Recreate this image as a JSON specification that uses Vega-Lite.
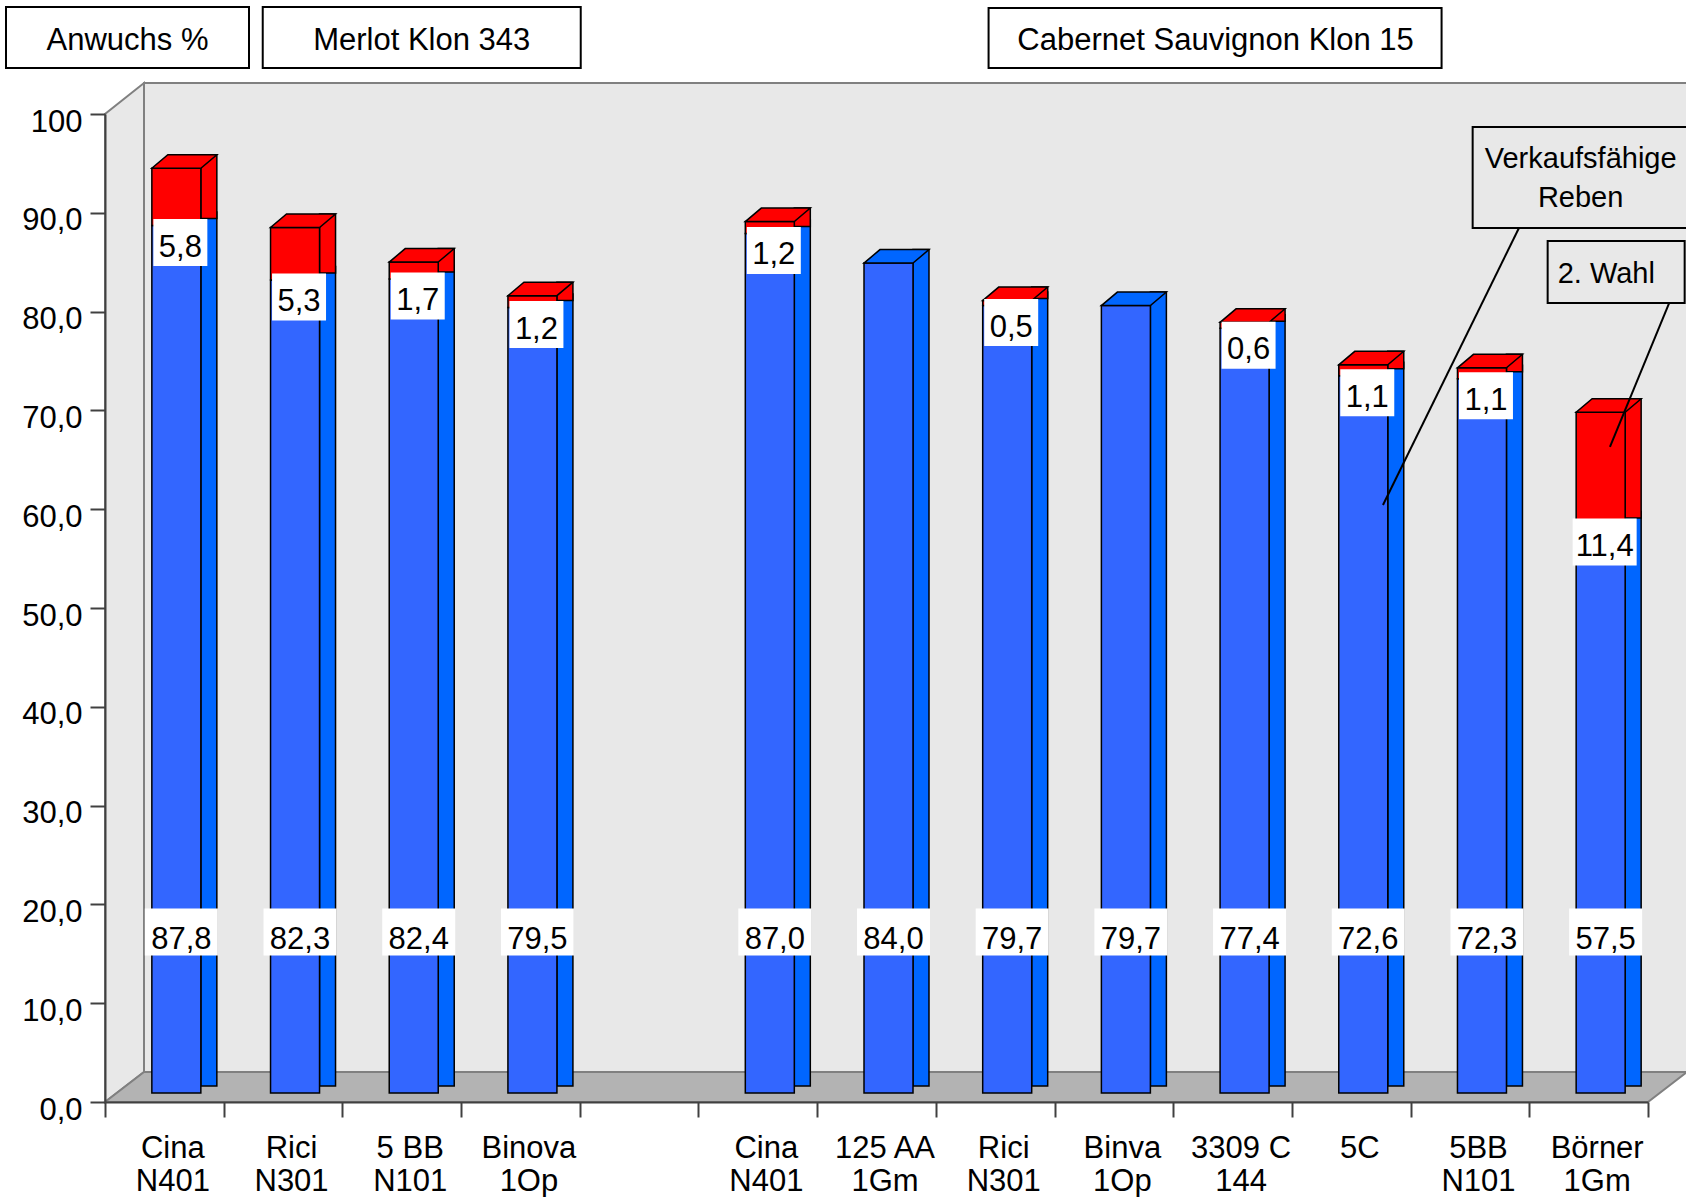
{
  "$schema": "https://vega.github.io/schema/vega-lite/v6.json",
  "width": 1543,
  "height": 988,
  "autosize": "none",
  "padding": {"left": 105, "top": 114, "right": 38, "bottom": 95},
  "background": "#ffffff",
  "config": {
    "view": {"stroke": null},
    "font": "Liberation Sans",
    "locale": {"number": {"decimal": ",", "thousands": ".", "grouping": [3], "currency": ["", " €"]}}
  },
  "datasets": {
    "anwuchs": [
      {"rootstock": "Merlot|Cina|N401", "part": "Verkaufsfähige Reben", "value": 87.8},
      {"rootstock": "Merlot|Cina|N401", "part": "2. Wahl", "value": 5.8},
      {"rootstock": "Merlot|Rici|N301", "part": "Verkaufsfähige Reben", "value": 82.3},
      {"rootstock": "Merlot|Rici|N301", "part": "2. Wahl", "value": 5.3},
      {"rootstock": "Merlot|5 BB|N101", "part": "Verkaufsfähige Reben", "value": 82.4},
      {"rootstock": "Merlot|5 BB|N101", "part": "2. Wahl", "value": 1.7},
      {"rootstock": "Merlot|Binova|1Op", "part": "Verkaufsfähige Reben", "value": 79.5},
      {"rootstock": "Merlot|Binova|1Op", "part": "2. Wahl", "value": 1.2},
      {"rootstock": "Cabernet|Cina|N401", "part": "Verkaufsfähige Reben", "value": 87.0},
      {"rootstock": "Cabernet|Cina|N401", "part": "2. Wahl", "value": 1.2},
      {"rootstock": "Cabernet|125 AA|1Gm", "part": "Verkaufsfähige Reben", "value": 84.0},
      {"rootstock": "Cabernet|Rici|N301", "part": "Verkaufsfähige Reben", "value": 79.7},
      {"rootstock": "Cabernet|Rici|N301", "part": "2. Wahl", "value": 0.5},
      {"rootstock": "Cabernet|Binva|1Op", "part": "Verkaufsfähige Reben", "value": 79.7},
      {"rootstock": "Cabernet|3309 C|144", "part": "Verkaufsfähige Reben", "value": 77.4},
      {"rootstock": "Cabernet|3309 C|144", "part": "2. Wahl", "value": 0.6},
      {"rootstock": "Cabernet|5C|", "part": "Verkaufsfähige Reben", "value": 72.6},
      {"rootstock": "Cabernet|5C|", "part": "2. Wahl", "value": 1.1},
      {"rootstock": "Cabernet|5BB|N101", "part": "Verkaufsfähige Reben", "value": 72.3},
      {"rootstock": "Cabernet|5BB|N101", "part": "2. Wahl", "value": 1.1},
      {"rootstock": "Cabernet|Börner|1Gm", "part": "Verkaufsfähige Reben", "value": 57.5},
      {"rootstock": "Cabernet|Börner|1Gm", "part": "2. Wahl", "value": 11.4}
    ]
  },
  "data": {"name": "anwuchs"},
  "layer": [
    {
      "data": {"values": [{}]},
      "mark": {"type": "point", "shape": "M39,-30L39,-1019L1585,-1019L1585,-30Z", "size": 4, "filled": true, "fill": "#e8e8e8", "stroke": "#808080", "strokeWidth": 2, "opacity": 1},
      "encoding": {"x": {"datum": "Merlot|Cina|N401", "bandPosition": 0}, "y": {"datum": 0}}
    },
    {
      "data": {"values": [{}]},
      "mark": {"type": "point", "shape": "M0,0L0,-988L39,-1019L39,-30Z", "size": 4, "filled": true, "fill": "#e8e8e8", "stroke": "#808080", "strokeWidth": 2, "opacity": 1},
      "encoding": {"x": {"datum": "Merlot|Cina|N401", "bandPosition": 0}, "y": {"datum": 0}}
    },
    {
      "data": {"values": [{}]},
      "mark": {"type": "point", "shape": "M0,0L39,-30L1582,-30L1543,0Z", "size": 4, "filled": true, "fill": "#b3b3b3", "stroke": "#808080", "strokeWidth": 2, "opacity": 1},
      "encoding": {"x": {"datum": "Merlot|Cina|N401", "bandPosition": 0}, "y": {"datum": 0}}
    },
    {
      "transform": [{"stack": "value", "groupby": ["rootstock"], "sort": [{"field": "part", "order": "descending"}], "as": ["v0", "v1"]}],
      "mark": {"type": "bar", "width": 16, "xOffset": 44.5, "yOffset": -22.5, "y2Offset": -16, "stroke": "#000000", "strokeWidth": 1.5},
      "encoding": {
        "x": {"field": "rootstock", "type": "nominal"},
        "y": {"field": "v1", "type": "quantitative"},
        "y2": {"field": "v0"},
        "fill": {"condition": {"test": "datum.part === '2. Wahl'", "value": "#ff0000"}, "value": "#0066ff"}
      }
    },
    {
      "transform": [{"stack": "value", "groupby": ["rootstock"], "sort": [{"field": "part", "order": "descending"}], "as": ["v0", "v1"]}],
      "mark": {"type": "bar", "width": 49, "xOffset": 12, "yOffset": -9, "y2Offset": -9, "stroke": "#000000", "strokeWidth": 1.5},
      "encoding": {
        "x": {
          "field": "rootstock",
          "type": "nominal",
          "scale": {
            "type": "band",
            "domain": ["Merlot|Cina|N401", "Merlot|Rici|N301", "Merlot|5 BB|N101", "Merlot|Binova|1Op", "gap||",
                       "Cabernet|Cina|N401", "Cabernet|125 AA|1Gm", "Cabernet|Rici|N301", "Cabernet|Binva|1Op",
                       "Cabernet|3309 C|144", "Cabernet|5C|", "Cabernet|5BB|N101", "Cabernet|Börner|1Gm"],
            "paddingInner": 0,
            "paddingOuter": 0
          },
          "axis": {
            "title": null,
            "orient": "bottom",
            "labelExpr": "[split(datum.value, '|')[1], split(datum.value, '|')[2]]",
            "labelFont": "Liberation Sans",
            "labelFontSize": 31,
            "labelColor": "#000000",
            "labelAngle": 0,
            "labelAlign": "center",
            "labelBaseline": "top",
            "labelPadding": 16,
            "labelLineHeight": 33,
            "labelOffset": 8,
            "labelOverlap": false,
            "labelBound": false,
            "labelFlush": false,
            "tickBand": "extent",
            "tickSize": 15,
            "tickColor": "#404040",
            "tickWidth": 2,
            "domainColor": "#404040",
            "domainWidth": 2,
            "grid": false,
            "zindex": 1
          }
        },
        "y": {
          "field": "v1",
          "type": "quantitative",
          "scale": {"domain": [0, 100], "nice": false},
          "axis": {
            "title": null,
            "orient": "left",
            "values": [0, 10, 20, 30, 40, 50, 60, 70, 80, 90, 100],
            "format": ".1f",
            "labelExpr": "datum.value == 100 ? '100' : datum.label",
            "labelFont": "Liberation Sans",
            "labelFontSize": 31,
            "labelColor": "#000000",
            "labelAlign": "right",
            "labelBaseline": "middle",
            "labelPadding": 8,
            "labelOffset": 8,
            "labelBound": false,
            "labelFlush": false,
            "labelOverlap": false,
            "tickSize": 15,
            "tickColor": "#404040",
            "tickWidth": 2,
            "domainColor": "#404040",
            "domainWidth": 2,
            "grid": false,
            "zindex": 1
          }
        },
        "y2": {"field": "v0"},
        "fill": {"condition": {"test": "datum.part === '2. Wahl'", "value": "#ff0000"}, "value": "#3366ff"}
      }
    },
    {
      "transform": [
        {"stack": "value", "groupby": ["rootstock"], "sort": [{"field": "part", "order": "descending"}], "as": ["v0", "v1"]},
        {"joinaggregate": [{"op": "max", "field": "v1", "as": "vmax"}], "groupby": ["rootstock"]},
        {"filter": "datum.v1 === datum.vmax"}
      ],
      "mark": {"type": "point", "shape": "M-24.5,0L24.5,0L40.5,-13.5L-8.5,-13.5Z", "size": 4, "filled": true, "stroke": "#000000", "strokeWidth": 1.5, "opacity": 1, "xOffset": 12, "yOffset": -9},
      "encoding": {
        "x": {"field": "rootstock", "type": "nominal"},
        "y": {"field": "v1", "type": "quantitative"},
        "fill": {"condition": {"test": "datum.part === '2. Wahl'", "value": "#ff0000"}, "value": "#0066ff"}
      }
    },
    {
      "transform": [{"filter": "datum.part === 'Verkaufsfähige Reben'"}],
      "mark": {"type": "point", "shape": "M-36.5,-23.5L36.5,-23.5L36.5,23.5L-36.5,23.5Z", "size": 4, "filled": true, "fill": "#ffffff", "strokeWidth": 0, "opacity": 1, "xOffset": 17},
      "encoding": {"x": {"field": "rootstock", "type": "nominal"}, "y": {"datum": 17.2}}
    },
    {
      "transform": [{"filter": "datum.part === 'Verkaufsfähige Reben'"}],
      "mark": {"type": "text", "font": "Liberation Sans", "fontSize": 31, "fill": "#000000", "align": "center", "baseline": "middle", "dx": 17, "dy": 8},
      "encoding": {"x": {"field": "rootstock", "type": "nominal"}, "y": {"datum": 17.2}, "text": {"field": "value", "type": "quantitative", "format": ".1f"}}
    },
    {
      "transform": [
        {"stack": "value", "groupby": ["rootstock"], "sort": [{"field": "part", "order": "descending"}], "as": ["v0", "v1"]},
        {"filter": "datum.part === '2. Wahl'"}
      ],
      "mark": {"type": "point", "size": 4, "filled": true, "fill": "#ffffff", "strokeWidth": 0, "opacity": 1, "xOffset": 16, "yOffset": 8},
      "encoding": {
        "x": {"field": "rootstock", "type": "nominal"},
        "y": {"field": "v0", "type": "quantitative"},
        "shape": {"condition": {"test": "datum.value >= 10", "value": "M-32,-23.5L32,-23.5L32,23.5L-32,23.5Z"}, "value": "M-27,-23.5L27,-23.5L27,23.5L-27,23.5Z"}
      }
    },
    {
      "transform": [
        {"stack": "value", "groupby": ["rootstock"], "sort": [{"field": "part", "order": "descending"}], "as": ["v0", "v1"]},
        {"filter": "datum.part === '2. Wahl'"}
      ],
      "mark": {"type": "text", "font": "Liberation Sans", "fontSize": 31, "fill": "#000000", "align": "center", "baseline": "middle", "dx": 16, "dy": 13},
      "encoding": {"x": {"field": "rootstock", "type": "nominal"}, "y": {"field": "v0", "type": "quantitative"}, "text": {"field": "value", "type": "quantitative", "format": ".1f"}}
    },
    {
      "data": {"values": [{}]},
      "mark": {"type": "rule", "stroke": "#000000", "strokeWidth": 2, "xOffset": -69.7, "x2Offset": 31.7},
      "encoding": {
        "x": {"datum": "Cabernet|Börner|1Gm"},
        "x2": {"datum": "Cabernet|5C|"},
        "y": {"datum": 88.46},
        "y2": {"datum": 60.43}
      }
    },
    {
      "data": {"values": [{}]},
      "mark": {"type": "rule", "stroke": "#000000", "strokeWidth": 2, "xOffset": 81.3, "x2Offset": 21.3},
      "encoding": {
        "x": {"datum": "Cabernet|Börner|1Gm"},
        "x2": {"datum": "Cabernet|Börner|1Gm"},
        "y": {"datum": 81.07},
        "y2": {"datum": 66.3}
      }
    },
    {
      "data": {"values": [{}]},
      "mark": {"type": "point", "shape": "M-116,13L112,13L112,114L-116,114Z", "size": 4, "filled": true, "fill": "#e8e8e8", "stroke": "#000000", "strokeWidth": 2, "opacity": 1},
      "encoding": {"x": {"datum": "Cabernet|Börner|1Gm"}, "y": {"datum": 100}}
    },
    {
      "data": {"values": [{}]},
      "mark": {"type": "text", "text": ["Verkaufsfähige", "Reben"], "font": "Liberation Sans", "fontSize": 29, "lineHeight": 39, "fill": "#000000", "align": "center", "baseline": "alphabetic", "dx": -8, "dy": 54},
      "encoding": {"x": {"datum": "Cabernet|Börner|1Gm"}, "y": {"datum": 100}}
    },
    {
      "data": {"values": [{}]},
      "mark": {"type": "point", "shape": "M-41,127L96,127L96,189L-41,189Z", "size": 4, "filled": true, "fill": "#e8e8e8", "stroke": "#000000", "strokeWidth": 2, "opacity": 1},
      "encoding": {"x": {"datum": "Cabernet|Börner|1Gm"}, "y": {"datum": 100}}
    },
    {
      "data": {"values": [{}]},
      "mark": {"type": "text", "text": "2. Wahl", "font": "Liberation Sans", "fontSize": 29, "fill": "#000000", "align": "left", "baseline": "alphabetic", "dx": -31, "dy": 169},
      "encoding": {"x": {"datum": "Cabernet|Börner|1Gm"}, "y": {"datum": 100}}
    },
    {
      "data": {"values": [{}]},
      "mark": {"type": "point", "shape": "M-99,-107L144,-107L144,-46L-99,-46Z", "size": 4, "filled": true, "fill": "#ffffff", "stroke": "#000000", "strokeWidth": 2, "opacity": 1},
      "encoding": {"x": {"datum": "Merlot|Cina|N401", "bandPosition": 0}, "y": {"datum": 100}}
    },
    {
      "data": {"values": [{}]},
      "mark": {"type": "text", "text": "Anwuchs %", "font": "Liberation Sans", "fontSize": 31, "fill": "#000000", "align": "center", "baseline": "alphabetic", "dx": 22.5, "dy": -64},
      "encoding": {"x": {"datum": "Merlot|Cina|N401", "bandPosition": 0}, "y": {"datum": 100}}
    },
    {
      "data": {"values": [{}]},
      "mark": {"type": "point", "shape": "M-139,-107L179,-107L179,-46L-139,-46Z", "size": 4, "filled": true, "fill": "#ffffff", "stroke": "#000000", "strokeWidth": 2, "opacity": 1},
      "encoding": {"x": {"datum": "Merlot|5 BB|N101"}, "y": {"datum": 100}}
    },
    {
      "data": {"values": [{}]},
      "mark": {"type": "text", "text": "Merlot Klon 343", "font": "Liberation Sans", "fontSize": 31, "fill": "#000000", "align": "center", "baseline": "alphabetic", "dx": 20, "dy": -64},
      "encoding": {"x": {"datum": "Merlot|5 BB|N101"}, "y": {"datum": 100}}
    },
    {
      "data": {"values": [{}]},
      "mark": {"type": "point", "shape": "M-244,-106L209,-106L209,-46L-244,-46Z", "size": 4, "filled": true, "fill": "#ffffff", "stroke": "#000000", "strokeWidth": 2, "opacity": 1},
      "encoding": {"x": {"datum": "Cabernet|3309 C|144"}, "y": {"datum": 100}}
    },
    {
      "data": {"values": [{}]},
      "mark": {"type": "text", "text": "Cabernet Sauvignon Klon 15", "font": "Liberation Sans", "fontSize": 31, "fill": "#000000", "align": "center", "baseline": "alphabetic", "dx": -17, "dy": -64},
      "encoding": {"x": {"datum": "Cabernet|3309 C|144"}, "y": {"datum": 100}}
    }
  ]
}
